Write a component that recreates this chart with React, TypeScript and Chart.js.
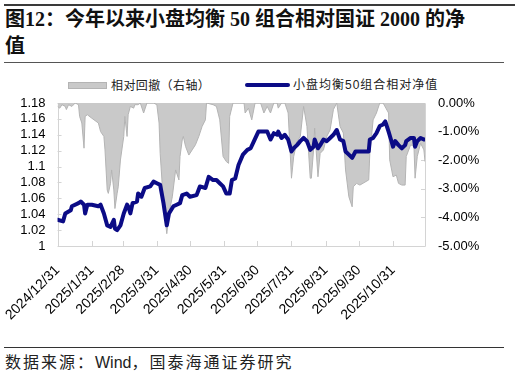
import React, { useEffect, useRef } from "react";
import { Chart, registerables } from "chart.js";

Chart.register(...registerables);

// x positions are calendar days since 2024/12/31
const tickDays = [0, 31, 59, 90, 120, 151, 181, 212, 243, 273, 304];
const tickLabels = [
  "2024/12/31", "2025/1/31", "2025/2/28", "2025/3/31", "2025/4/30", "2025/5/31",
  "2025/6/30", "2025/7/31", "2025/8/31", "2025/9/30", "2025/10/31",
];
const leftTicks = [1, 1.02, 1.04, 1.06, 1.08, 1.1, 1.12, 1.14, 1.16, 1.18];
const rightTicks = [-5, -4, -3, -2, -1, 0];

const navDays = [
  0, 5, 7, 12, 13, 19, 21, 24, 25, 27, 31, 37, 39, 42, 45, 48, 51, 52, 54, 57,
  60, 63, 64, 66, 68, 72, 73, 76, 79, 84, 87, 90, 93, 96, 99, 101, 105, 108, 111, 113,
  117, 120, 126, 129, 134, 137, 141, 144, 147, 150, 153, 156, 158, 161, 164, 168, 172, 175, 178, 182,
  184, 190, 193, 196, 199, 200, 203, 206, 209, 212, 214, 217, 220, 223, 226, 229, 232, 233, 236, 238,
  241, 244, 247, 250, 253, 256, 259, 261, 264, 267, 270, 274, 282, 283, 286, 289, 292, 295, 297, 300,
  303, 304, 306, 309, 312, 315, 316, 320, 323, 324, 326, 329, 332, 333,
];
const navValues = [
  1.033, 1.031, 1.041, 1.045, 1.05, 1.054, 1.056, 1.052, 1.041, 1.052, 1.052, 1.05, 1.052, 1.041, 1.026, 1.024, 1.033, 1.022, 1.02, 1.026,
  1.041, 1.052, 1.05, 1.041, 1.054, 1.056, 1.066, 1.062, 1.073, 1.075, 1.081, 1.079, 1.077, 1.054, 1.026, 1.041, 1.05, 1.052, 1.054, 1.064,
  1.066, 1.062, 1.064, 1.075, 1.073, 1.087, 1.083, 1.083, 1.079, 1.075, 1.066, 1.066, 1.083, 1.085, 1.102, 1.115, 1.121, 1.123, 1.132, 1.144,
  1.144, 1.144, 1.134, 1.142, 1.14, 1.144, 1.136, 1.14, 1.134, 1.119, 1.123, 1.127, 1.132, 1.136, 1.132, 1.121, 1.125, 1.134, 1.123, 1.127,
  1.134, 1.132, 1.136, 1.14, 1.146, 1.134, 1.132, 1.119, 1.115, 1.111, 1.119, 1.119, 1.119, 1.134, 1.136, 1.142, 1.151, 1.153, 1.157, 1.144,
  1.13, 1.125, 1.132, 1.127, 1.123, 1.127, 1.132, 1.136, 1.136, 1.125, 1.132, 1.136, 1.134, 1.134,
];

const ddDays = [
  0, 2, 4, 7, 8, 10, 13, 16, 19, 20, 22, 24, 25, 27, 31, 37, 39, 42, 43, 45,
  46, 48, 49, 51, 52, 54, 55, 57, 60, 61, 63, 64, 66, 69, 70, 73, 75, 78, 81, 87,
  90, 92, 93, 96, 99, 101, 104, 107, 110, 111, 113, 114, 116, 119, 122, 125, 128, 131, 134, 135,
  141, 144, 147, 150, 153, 155, 156, 159, 169, 170, 173, 176, 179, 184, 187, 190, 193, 196, 199, 200,
  203, 206, 209, 212, 214, 217, 220, 223, 226, 229, 230, 232, 233, 236, 238, 241, 244, 247, 250, 253,
  256, 259, 261, 264, 267, 268, 271, 274, 282, 283, 286, 289, 292, 295, 300, 301, 304, 307, 309, 312,
  315, 316, 320, 323, 324, 326, 329, 332, 333,
];
const ddValues = [
  -0.12, -0.18, -0.06, -0.12, -0.23, -0.06, -0.12, 0, -0.06, -0.47, -0.7, -1.58, -0.47, -0.41, -0.53, -0.7, -1.0, -1.17, -1.64, -3.04,
  -3.16, -2.81, -2.34, -3.04, -3.69, -3.16, -2.93, -1.99, -1.17, -0.47, -1.17, -0.41, -0.12, -0.18, -0.06, -0.06, 0, -0.35, 0, 0,
  -0.06, -0.7, -1.76, -3.51, -4.57, -3.86, -3.28, -2.34, -2.69, -1.87, -1.29, -1.17, -1.52, -1.82, -1.64, -1.46, -1.17, -0.82, -0.59, 0,
  -0.06, -0.12, -0.59, -1.87, -2.05, -2.11, -0.47, 0, 0, -0.35, -0.18, -0.59, 0, 0, -0.35, -0.12, -0.35, 0, 0, -0.18,
  0, 0, -0.35, -2.63, -1.87, -1.35, -1.17, -0.12, -0.82, -2.63, -2.63, -1.64, -0.88, -2.58, -1.76, -1.64, -1.17, -0.94, -0.23, 0,
  -0.82, -1.05, -2.34, -3.28, -3.63, -2.93, -2.81, -2.87, -2.69, -1.76, -0.59, -0.35, 0, 0, -0.35, -1.99, -2.58, -2.52, -2.81, -2.87,
  -2.87, -1.87, -1.46, -1.52, -2.63, -1.87, -1.41, -1.64, -2.05,
];

const seriesNames = ["小盘均衡50组合相对净值", "相对回撤（右轴）"];

const NAVY = "#0b0b86";
const AREA_FILL = "#c9c9c9";
const AREA_LINE = "#b4b4b4";
const FRAME = "#d4d4d4";
const SANS = "'Liberation Sans', Arial, sans-serif";

const framePlugin = {
  id: "frame",
  beforeDatasetsDraw(chart: any) {
    const { ctx, chartArea } = chart;
    const { left, right, top, bottom } = chartArea;
    ctx.save();
    ctx.strokeStyle = FRAME;
    ctx.lineWidth = 1;
    ctx.beginPath();
    ctx.rect(Math.round(left) + 0.5, Math.round(top) + 0.5, Math.round(right - left), Math.round(bottom - top));
    ctx.stroke();
    ctx.beginPath();
    const ys = chart.scales.y;
    ys.ticks.forEach((t: any) => {
      const py = Math.round(ys.getPixelForValue(t.value)) + 0.5;
      ctx.moveTo(left, py);
      ctx.lineTo(left + 4, py);
    });
    const y2 = chart.scales.y2;
    y2.ticks.forEach((t: any) => {
      const py = Math.round(y2.getPixelForValue(t.value)) + 0.5;
      ctx.moveTo(right, py);
      ctx.lineTo(right - 4, py);
    });
    const xs = chart.scales.x;
    xs.ticks.forEach((t: any) => {
      const px = Math.round(xs.getPixelForValue(t.value)) + 0.5;
      ctx.moveTo(px, bottom);
      ctx.lineTo(px, bottom - 5);
    });
    ctx.stroke();
    ctx.restore();
  },
};

function ChartCanvas() {
  const ref = useRef<HTMLCanvasElement | null>(null);
  useEffect(() => {
    if (!ref.current) return;
    const chart = new Chart(ref.current, {
      type: "line",
      data: {
        datasets: [
          {
            label: seriesNames[0],
            data: navDays.map((d, i) => ({ x: d, y: navValues[i] })),
            yAxisID: "y",
            borderColor: NAVY,
            backgroundColor: NAVY,
            borderWidth: 4,
            pointRadius: 0,
            pointHoverRadius: 0,
            tension: 0,
            borderJoinStyle: "round",
            borderCapStyle: "round",
            fill: false,
          },
          {
            label: seriesNames[1],
            data: ddDays.map((d, i) => ({ x: d, y: ddValues[i] })),
            yAxisID: "y2",
            borderColor: AREA_LINE,
            backgroundColor: AREA_FILL,
            borderWidth: 1,
            pointRadius: 0,
            pointHoverRadius: 0,
            tension: 0,
            fill: { value: 0 },
          },
        ],
      },
      options: {
        animation: false,
        responsive: false,
        maintainAspectRatio: false,
        layout: { autoPadding: false, padding: { top: 8, left: 0, right: 0, bottom: 0 } },
        plugins: { legend: { display: false }, tooltip: { enabled: false } },
        scales: {
          x: {
            type: "linear",
            min: 0,
            max: 333,
            afterBuildTicks: (s: any) => {
              s.ticks = tickDays.map((v) => ({ value: v }));
            },
            afterFit: (s: any) => {
              s.height = 99;
            },
            ticks: {
              autoSkip: false,
              minRotation: 45,
              maxRotation: 45,
              padding: 8,
              color: "#000",
              font: { family: SANS, size: 14 },
              callback: (v: any) => {
                const i = tickDays.indexOf(Number(v));
                return i >= 0 ? tickLabels[i] : "";
              },
            },
            grid: { display: false },
            border: { display: false },
          },
          y: {
            position: "left",
            min: 1,
            max: 1.18,
            afterBuildTicks: (s: any) => {
              s.ticks = leftTicks.map((v) => ({ value: v }));
            },
            afterFit: (s: any) => {
              s.width = 56;
            },
            ticks: {
              autoSkip: false,
              padding: 0,
              color: "#000",
              font: { family: SANS, size: 13 },
              callback: (v: any) => String(parseFloat(Number(v).toFixed(2))),
            },
            grid: { display: false, drawTicks: true, tickLength: 12 },
            border: { display: false },
          },
          y2: {
            position: "right",
            min: -5,
            max: 0,
            afterBuildTicks: (s: any) => {
              s.ticks = rightTicks.map((v) => ({ value: v }));
            },
            afterFit: (s: any) => {
              s.width = 96;
            },
            ticks: {
              autoSkip: false,
              padding: 0,
              color: "#000",
              font: { family: SANS, size: 13 },
              callback: (v: any) => Number(v).toFixed(2) + "%",
            },
            grid: { display: false, drawTicks: true, tickLength: 13 },
            border: { display: false },
          },
        },
      },
      plugins: [framePlugin],
    } as any);
    return () => chart.destroy();
  }, []);
  return (
    <canvas
      ref={ref}
      width={521}
      height={250}
      style={{ position: "absolute", left: 0, top: 95, width: 521, height: 250 }}
    />
  );
}

export default function App() {
  const cjk = "'Noto Sans CJK SC', sans-serif";
  return (
    <div style={{ position: "absolute", left: 0, top: 0, width: 521, height: 377, background: "#fff", overflow: "hidden" }}>
      <div style={{ position: "absolute", left: 4, top: 4, width: 511, height: 2, background: "#3a3a3a" }} />
      <div
        style={{
          position: "absolute",
          left: 5,
          top: 6,
          fontFamily: "'Liberation Serif', 'Noto Sans CJK SC', serif",
          fontWeight: "bold",
          fontSize: 20,
          lineHeight: "27px",
          letterSpacing: 0,
          color: "#111",
          whiteSpace: "nowrap",
        }}
      >
        图12：今年以来小盘均衡 50 组合相对国证 2000 的净
        <br />值
      </div>
      <div style={{ position: "absolute", left: 4, top: 62, width: 500, height: 1, background: "#555" }} />

      {/* legend */}
      <div style={{ position: "absolute", left: 68, top: 82, width: 37, height: 5, background: AREA_FILL, border: `1px solid ${AREA_LINE}` }} />
      <div style={{ position: "absolute", left: 111, top: 77, fontFamily: cjk, fontSize: 12, lineHeight: "16px", letterSpacing: 0.4, color: "#222", whiteSpace: "nowrap" }}>
        {seriesNames[1]}
      </div>
      <div style={{ position: "absolute", left: 245, top: 83, width: 45, height: 4, borderRadius: 2, background: NAVY }} />
      <div style={{ position: "absolute", left: 293, top: 77, fontFamily: "'Liberation Sans', 'Noto Sans CJK SC', sans-serif", fontSize: 12, lineHeight: "16px", letterSpacing: 1, color: "#222", whiteSpace: "nowrap" }}>
        {seriesNames[0]}
      </div>

      <ChartCanvas />

      <div style={{ position: "absolute", left: 4, top: 347, width: 500, height: 1, background: "#333" }} />
      <div
        style={{
          position: "absolute",
          left: 5,
          top: 353,
          fontFamily: "'Liberation Sans', 'Noto Sans CJK SC', sans-serif",
          fontSize: 16,
          lineHeight: "20px",
          letterSpacing: 2,
          color: "#222",
          whiteSpace: "nowrap",
        }}
      >
        数据来源：<span style={{ letterSpacing: 0 }}>Wind</span>，国泰海通证券研究
      </div>
    </div>
  );
}
